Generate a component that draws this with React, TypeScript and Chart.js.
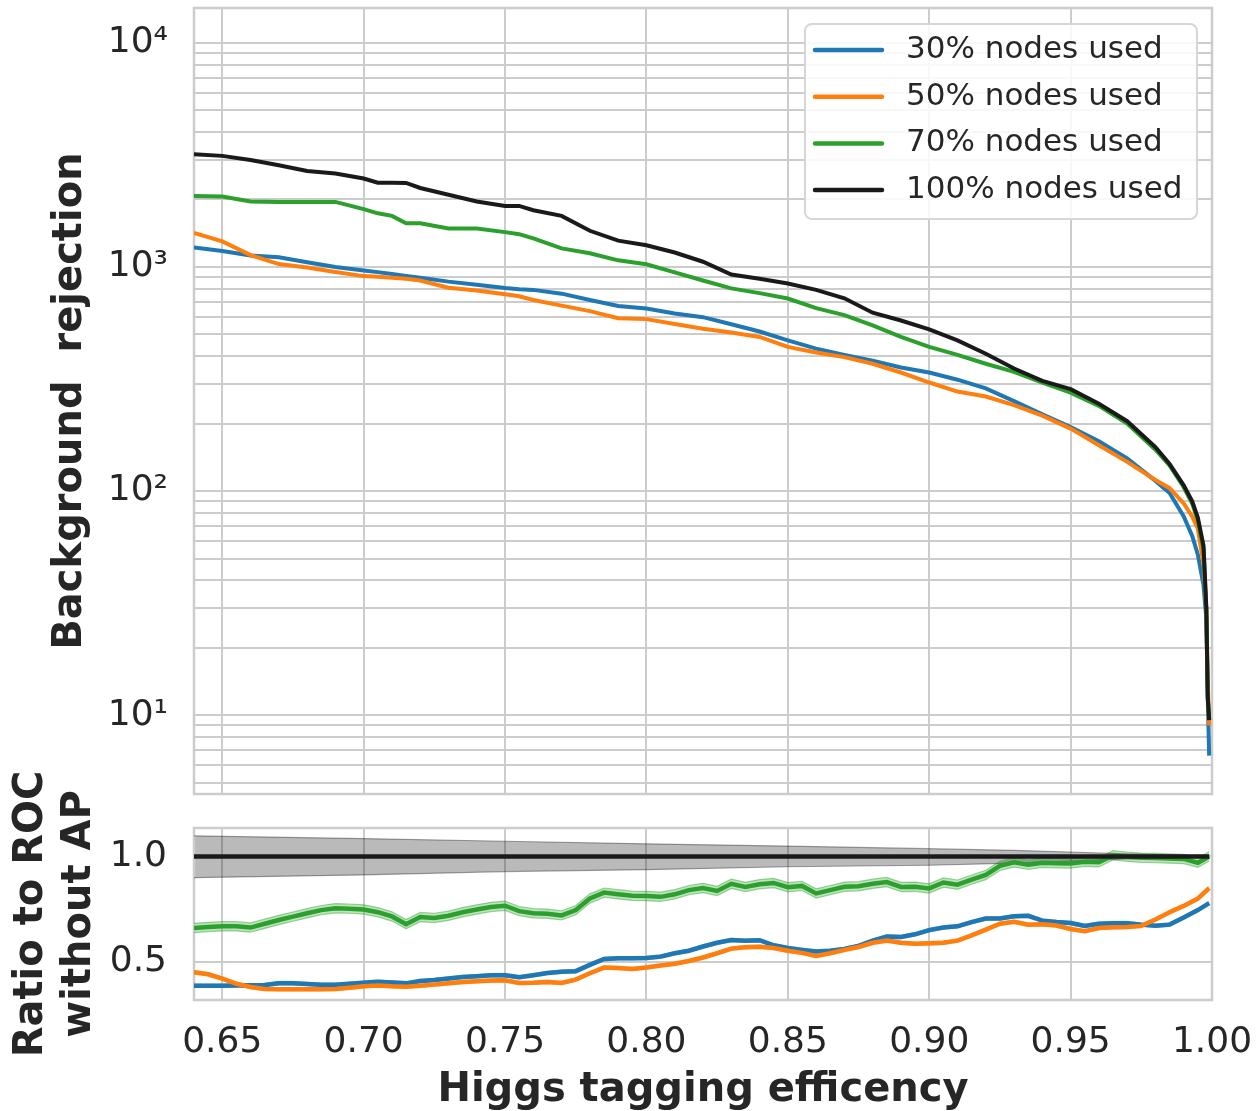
import { useEffect, useRef } from 'react';
import { Chart, registerables } from 'chart.js';

Chart.register(...registerables);

const FONT = '"DejaVu Sans", Verdana, sans-serif';
const TEXT = '#262626';
const GRID = '#cccccc';

// ---------- top panel: background rejection vs Higgs tagging efficiency ----------
const effTop = [0.64, 0.65, 0.66, 0.67, 0.68, 0.69, 0.70, 0.705, 0.71, 0.715, 0.72, 0.73, 0.74, 0.75, 0.755, 0.76, 0.77, 0.78, 0.79, 0.80, 0.81, 0.82, 0.83, 0.84, 0.85, 0.86, 0.87, 0.88, 0.89, 0.90, 0.91, 0.92, 0.93, 0.94, 0.95, 0.96, 0.97, 0.98, 0.985, 0.99, 0.993, 0.995, 0.997, 0.998, 0.9985, 0.999];
const rej30 = [1220, 1178, 1125, 1105, 1050, 1000, 965, 948, 930, 912, 895, 860, 832, 805, 795, 790, 760, 712, 670, 652, 620, 597, 555, 515, 470, 432, 405, 382, 356, 338, 314, 287, 252, 220, 193, 167, 140, 111, 98, 77, 63, 52, 38, 27, 12, 6.6];
const rej50 = [1420, 1300, 1130, 1030, 994, 950, 910, 905, 895, 885, 870, 808, 785, 755, 740, 712, 672, 635, 590, 585, 556, 530, 510, 487, 440, 415, 396, 370, 338, 305, 278, 264, 242, 217, 190, 160, 135, 112, 103, 88, 77, 68, 47, 30, 14, 9];
const rej70 = [2070, 2060, 1960, 1950, 1950, 1950, 1810, 1735, 1690, 1566, 1566, 1483, 1483, 1430, 1400, 1340, 1210, 1151, 1070, 1028, 945, 870, 802, 764, 723, 655, 610, 548, 487, 440, 405, 370, 340, 305, 275, 240, 200, 153, 130, 104, 88, 74, 55, 29, 12, 9.5];
const rej100 = [3180, 3130, 3000, 2840, 2680, 2610, 2480, 2377, 2377, 2370, 2250, 2100, 1960, 1872, 1872, 1790, 1690, 1450, 1310, 1250, 1160, 1055, 925, 885, 843, 790, 725, 625, 577, 527, 470, 410, 352, 310, 285, 245, 205, 157, 132, 106, 90, 76, 57, 30, 12, 9.5];

const seriesLabels = ['30% nodes used', '50% nodes used', '70% nodes used', '100% nodes used'];
const seriesColors = ['#1f77b4', '#ff7f0e', '#2ca02c', '#1a1a1a'];

const yLogTicks = [5, 6, 7, 8, 9, 10, 20, 30, 40, 50, 60, 70, 80, 90, 100, 200, 300, 400, 500, 600, 700, 800, 900, 1000, 2000, 3000, 4000, 5000, 6000, 7000, 8000, 9000, 10000];
const yMajorValues = [10, 100, 1000, 10000];
const yMajorLabels = ['10¹', '10²', '10³', '10⁴'];
const xTicks = [0.65, 0.70, 0.75, 0.80, 0.85, 0.90, 0.95, 1.0];

// ---------- bottom panel: ratio to ROC without AP ----------
const effRatio = [0.640, 0.645, 0.650, 0.655, 0.660, 0.665, 0.670, 0.675, 0.680, 0.685, 0.690, 0.695, 0.700, 0.705, 0.710, 0.715, 0.720, 0.725, 0.730, 0.735, 0.740, 0.745, 0.750, 0.755, 0.760, 0.765, 0.770, 0.775, 0.780, 0.785, 0.790, 0.795, 0.800, 0.805, 0.810, 0.815, 0.820, 0.825, 0.830, 0.835, 0.840, 0.845, 0.850, 0.855, 0.860, 0.865, 0.870, 0.875, 0.880, 0.885, 0.890, 0.895, 0.900, 0.905, 0.910, 0.915, 0.920, 0.925, 0.930, 0.935, 0.940, 0.945, 0.950, 0.955, 0.960, 0.965, 0.970, 0.975, 0.980, 0.985, 0.990, 0.995, 0.999];
const ratio30 = [0.386, 0.386, 0.386, 0.387, 0.388, 0.389, 0.398, 0.398, 0.394, 0.390, 0.390, 0.395, 0.400, 0.405, 0.401, 0.397, 0.408, 0.413, 0.420, 0.427, 0.431, 0.435, 0.436, 0.426, 0.436, 0.446, 0.452, 0.455, 0.485, 0.513, 0.516, 0.516, 0.518, 0.524, 0.540, 0.552, 0.572, 0.590, 0.603, 0.600, 0.602, 0.578, 0.565, 0.556, 0.548, 0.552, 0.560, 0.575, 0.600, 0.619, 0.617, 0.630, 0.650, 0.662, 0.668, 0.688, 0.705, 0.705, 0.716, 0.718, 0.695, 0.688, 0.684, 0.670, 0.680, 0.683, 0.683, 0.676, 0.671, 0.676, 0.710, 0.745, 0.778];
const ratio50 = [0.450, 0.440, 0.420, 0.395, 0.380, 0.370, 0.369, 0.369, 0.369, 0.369, 0.370, 0.376, 0.383, 0.387, 0.383, 0.381, 0.386, 0.391, 0.398, 0.403, 0.407, 0.411, 0.412, 0.399, 0.400, 0.404, 0.399, 0.415, 0.445, 0.472, 0.470, 0.465, 0.472, 0.482, 0.490, 0.503, 0.520, 0.540, 0.562, 0.569, 0.571, 0.565, 0.552, 0.542, 0.527, 0.540, 0.556, 0.570, 0.590, 0.600, 0.590, 0.585, 0.587, 0.590, 0.600, 0.625, 0.652, 0.680, 0.690, 0.676, 0.678, 0.672, 0.655, 0.645, 0.660, 0.663, 0.665, 0.670, 0.700, 0.735, 0.765, 0.800, 0.849];
const ratio70 = [0.660, 0.665, 0.668, 0.668, 0.662, 0.680, 0.698, 0.714, 0.730, 0.745, 0.754, 0.752, 0.748, 0.735, 0.715, 0.678, 0.712, 0.708, 0.718, 0.735, 0.748, 0.760, 0.766, 0.740, 0.730, 0.728, 0.720, 0.745, 0.800, 0.828, 0.820, 0.813, 0.812, 0.808, 0.820, 0.840, 0.850, 0.836, 0.870, 0.855, 0.868, 0.874, 0.854, 0.860, 0.824, 0.840, 0.856, 0.858, 0.870, 0.878, 0.855, 0.856, 0.848, 0.876, 0.866, 0.890, 0.912, 0.955, 0.972, 0.960, 0.970, 0.968, 0.966, 0.975, 0.972, 1.005, 0.998, 0.994, 0.992, 0.990, 0.988, 0.970, 1.000];
const err30 = 0.008;
const err50 = 0.008;
const err70 = 0.022;
const effRef = [0.64, 0.999];
const ratio100 = [1.0, 1.0];
const effRefBand = [0.64, 0.70, 0.75, 0.80, 0.85, 0.90, 0.93, 0.95, 0.97, 0.999];
const refBandUpper = [1.098, 1.085, 1.072, 1.060, 1.049, 1.037, 1.029, 1.021, 1.012, 1.004];
const refBandLower = [0.899, 0.912, 0.928, 0.937, 0.951, 0.958, 0.968, 0.978, 0.988, 0.996];
const ratioTicks = [0.5, 1.0];

const pts = (xs: number[], ys: number[]) => xs.map((x, i) => ({ x, y: ys[i] }));
const shift = (ys: number[], d: number) => ys.map((v) => v + d);

const fixAxis = (w?: number, h?: number) => (s: any) => {
  if (w !== undefined) s.width = w;
  if (h !== undefined) s.height = h;
  s.paddingTop = 0;
  s.paddingBottom = 0;
  s.paddingLeft = 0;
  s.paddingRight = 0;
};

const framePlugin = {
  id: 'frame',
  beforeDatasetsDraw(chart: any) {
    const { ctx, chartArea: a } = chart;
    ctx.save();
    ctx.strokeStyle = GRID;
    ctx.lineWidth = 2.5;
    ctx.strokeRect(a.left, a.top, a.right - a.left, a.bottom - a.top);
    ctx.restore();
  },
};

const legendPlugin = {
  id: 'boxLegend',
  afterDatasetsDraw(chart: any) {
    const { ctx, chartArea: a } = chart;
    const w = 392;
    const h = 195;
    const left = a.right - 15 - w;
    const top = a.top + 16;
    ctx.save();
    ctx.beginPath();
    ctx.roundRect(left, top, w, h, 7);
    ctx.fillStyle = 'rgba(255,255,255,0.85)';
    ctx.fill();
    ctx.strokeStyle = '#d6d6d6';
    ctx.lineWidth = 2;
    ctx.stroke();
    ctx.font = `31px ${FONT}`;
    ctx.textBaseline = 'middle';
    ctx.textAlign = 'left';
    chart.data.datasets.forEach((ds: any, i: number) => {
      const cy = top + 26 + i * 46.7;
      ctx.beginPath();
      ctx.moveTo(left + 10, cy);
      ctx.lineTo(left + 77, cy);
      ctx.strokeStyle = ds.borderColor;
      ctx.lineWidth = 4.5;
      ctx.lineCap = 'round';
      ctx.stroke();
      ctx.fillStyle = TEXT;
      ctx.fillText(ds.label, left + 101, cy);
    });
    ctx.restore();
  },
};

export default function App() {
  const topRef = useRef<HTMLCanvasElement | null>(null);
  const botRef = useRef<HTMLCanvasElement | null>(null);

  useEffect(() => {
    Chart.defaults.font.family = FONT;
    const tickFont = { family: FONT, size: 36 };
    const titleFont = { family: FONT, size: 40, weight: 'bold' as const };

    const topSeries = [rej30, rej50, rej70, rej100];
    const top = new Chart(topRef.current as HTMLCanvasElement, {
      type: 'line',
      data: {
        datasets: topSeries.map((ys, i) => ({
          label: seriesLabels[i],
          data: pts(effTop, ys),
          borderColor: seriesColors[i],
          backgroundColor: seriesColors[i],
          borderWidth: 4,
          pointRadius: 0,
          tension: 0,
          fill: false,
          order: 3 - i,
        })),
      },
      options: {
        responsive: false,
        animation: false,
        events: [],
        layout: { padding: { left: 0, top: 8, right: 44, bottom: 6 } },
        plugins: { legend: { display: false }, tooltip: { enabled: false } },
        scales: {
          x: {
            type: 'linear',
            min: 0.64,
            max: 1.0,
            afterBuildTicks: (s: any) => {
              s.ticks = xTicks.map((v) => ({ value: v }));
            },
            ticks: { display: false },
            grid: { color: GRID, lineWidth: 2, drawTicks: false },
            border: { display: false },
            afterFit: fixAxis(undefined, 0),
          },
          y: {
            type: 'logarithmic',
            min: 4.45,
            max: 14300,
            afterBuildTicks: (s: any) => {
              s.ticks = yLogTicks.map((v) => ({ value: v }));
            },
            ticks: {
              autoSkip: false,
              padding: 26,
              font: tickFont,
              color: TEXT,
              callback: (v: any) => {
                const i = yMajorValues.indexOf(Number(v));
                return i >= 0 ? yMajorLabels[i] : '';
              },
            },
            grid: { color: GRID, lineWidth: 2, drawTicks: false },
            border: { display: false },
            title: {
              display: true,
              text: 'Background  rejection',
              font: titleFont,
              color: TEXT,
              padding: { top: 47, bottom: 0 },
            },
            afterFit: fixAxis(194),
          },
        },
      } as any,
      plugins: [framePlugin, legendPlugin],
    });

    const lineDs = (label: string, xs: number[], ys: number[], color: string, order: number) => ({
      label,
      data: pts(xs, ys),
      borderColor: color,
      borderWidth: 4.5,
      pointRadius: 0,
      tension: 0,
      fill: false,
      order,
    });
    const bandDs = (xs: number[], ys: number[], edge: string, fillCol: string, fill: any) => ({
      label: '',
      data: pts(xs, ys),
      borderColor: edge,
      backgroundColor: fillCol,
      borderWidth: 1.2,
      pointRadius: 0,
      tension: 0,
      fill,
      order: 20,
    });

    const bottom = new Chart(botRef.current as HTMLCanvasElement, {
      type: 'line',
      data: {
        datasets: [
          bandDs(effRefBand, refBandUpper, 'rgba(0,0,0,0.35)', 'rgba(0,0,0,0.27)', '+1'),
          bandDs(effRefBand, refBandLower, 'rgba(0,0,0,0.35)', 'rgba(0,0,0,0.27)', false),
          bandDs(effRatio, shift(ratio70, err70), 'rgba(44,160,44,0.45)', 'rgba(44,160,44,0.3)', '+1'),
          bandDs(effRatio, shift(ratio70, -err70), 'rgba(44,160,44,0.45)', 'rgba(44,160,44,0.3)', false),
          bandDs(effRatio, shift(ratio30, err30), 'rgba(31,119,180,0.4)', 'rgba(31,119,180,0.3)', '+1'),
          bandDs(effRatio, shift(ratio30, -err30), 'rgba(31,119,180,0.4)', 'rgba(31,119,180,0.3)', false),
          bandDs(effRatio, shift(ratio50, err50), 'rgba(255,127,14,0.4)', 'rgba(255,127,14,0.3)', '+1'),
          bandDs(effRatio, shift(ratio50, -err50), 'rgba(255,127,14,0.4)', 'rgba(255,127,14,0.3)', false),
          lineDs(seriesLabels[0], effRatio, ratio30, seriesColors[0], 4),
          lineDs(seriesLabels[1], effRatio, ratio50, seriesColors[1], 3),
          lineDs(seriesLabels[2], effRatio, ratio70, seriesColors[2], 2),
          lineDs(seriesLabels[3], effRef, ratio100, seriesColors[3], 1),
        ],
      },
      options: {
        responsive: false,
        animation: false,
        events: [],
        layout: { padding: { left: 0, top: 88, right: 44, bottom: 0 } },
        plugins: {
          legend: { display: false },
          tooltip: { enabled: false },
          filler: { drawTime: 'beforeDatasetsDraw' },
        },
        scales: {
          x: {
            type: 'linear',
            min: 0.64,
            max: 1.0,
            afterBuildTicks: (s: any) => {
              s.ticks = xTicks.map((v) => ({ value: v }));
            },
            ticks: {
              autoSkip: false,
              maxRotation: 0,
              padding: 21,
              font: tickFont,
              color: TEXT,
              callback: (v: any) => Number(v).toFixed(2),
            },
            grid: { color: GRID, lineWidth: 2, drawTicks: false },
            border: { display: false },
            title: {
              display: true,
              text: 'Higgs tagging efficency',
              font: titleFont,
              color: TEXT,
              padding: { top: 0, bottom: 0 },
            },
            afterFit: fixAxis(undefined, 115),
          },
          y: {
            type: 'linear',
            min: 0.318,
            max: 1.135,
            afterBuildTicks: (s: any) => {
              s.ticks = ratioTicks.map((v) => ({ value: v }));
            },
            ticks: {
              autoSkip: false,
              padding: 27,
              font: tickFont,
              color: TEXT,
              callback: (v: any) => Number(v).toFixed(1),
            },
            grid: { color: GRID, lineWidth: 2, drawTicks: false },
            border: { display: false },
            title: {
              display: true,
              text: ['Ratio to ROC', 'without AP'],
              font: titleFont,
              color: TEXT,
              padding: { top: 8, bottom: 0 },
            },
            afterFit: fixAxis(194),
          },
        },
      } as any,
      plugins: [framePlugin],
    });

    return () => {
      top.destroy();
      bottom.destroy();
    };
  }, []);

  return (
    <div
      style={{
        position: 'fixed',
        left: 0,
        top: 0,
        width: 1256,
        height: 1111,
        overflow: 'hidden',
        background: '#ffffff',
      }}
    >
      <canvas
        ref={topRef}
        width={1256}
        height={800}
        style={{ position: 'absolute', left: 0, top: 0, width: 1256, height: 800, display: 'block' }}
      />
      <canvas
        ref={botRef}
        width={1256}
        height={375}
        style={{ position: 'absolute', left: 0, top: 740, width: 1256, height: 375, display: 'block' }}
      />
    </div>
  );
}
